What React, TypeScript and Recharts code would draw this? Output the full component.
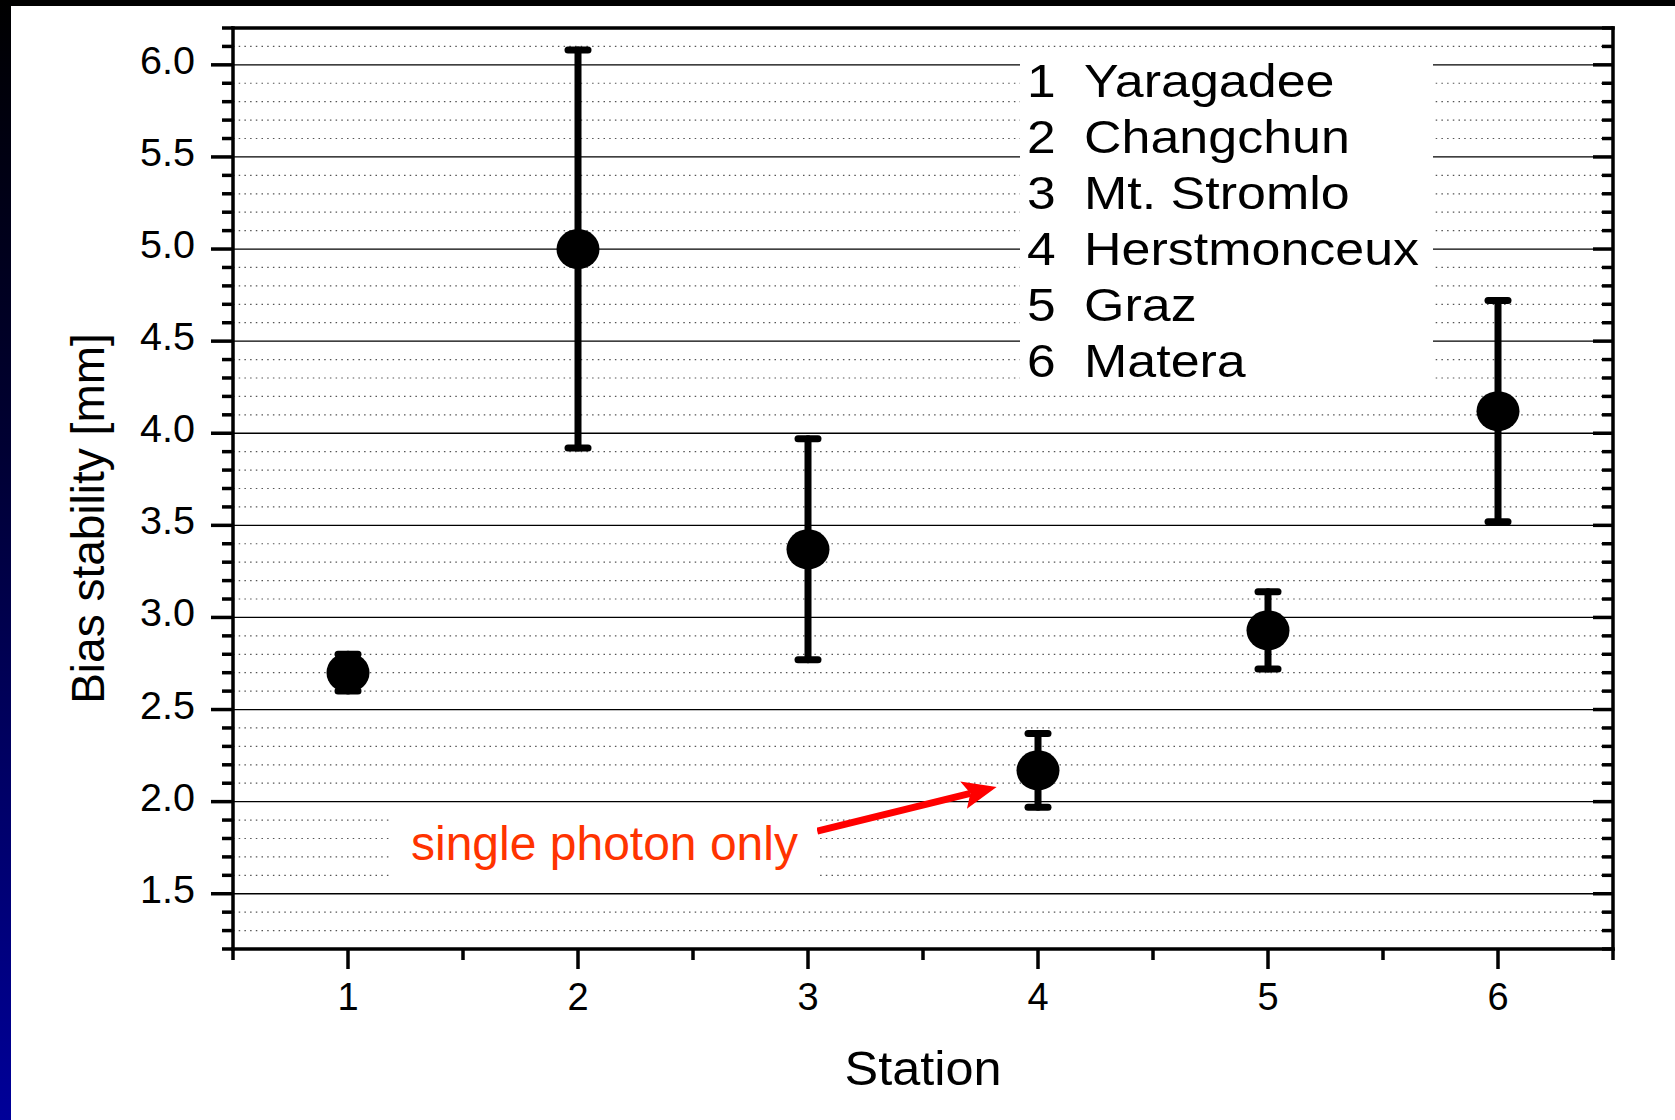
import React from 'react';
import { ScatterChart, Scatter, XAxis, YAxis, ErrorBar, ReferenceLine, Label } from 'recharts';

// ---- data ----
const stations = [1, 2, 3, 4, 5, 6];
const stationNames = ['Yaragadee', 'Changchun', 'Mt. Stromlo', 'Herstmonceux', 'Graz', 'Matera'];
const biasStability = [2.70, 5.00, 3.37, 2.17, 2.93, 4.12];
const lowerBound = [2.60, 3.92, 2.77, 1.97, 2.72, 3.52];
const upperBound = [2.80, 6.08, 3.97, 2.37, 3.14, 4.72];

const xMajorTicks = [1, 2, 3, 4, 5, 6];
const xAllTicks = [0.5, 1, 1.5, 2, 2.5, 3, 3.5, 4, 4.5, 5, 5.5, 6, 6.5];
const yMajorTicks = [1.5, 2.0, 2.5, 3.0, 3.5, 4.0, 4.5, 5.0, 5.5, 6.0];
const yAllTicks = [
  1.2, 1.3, 1.4, 1.5, 1.6, 1.7, 1.8, 1.9, 2.0, 2.1, 2.2, 2.3, 2.4, 2.5, 2.6, 2.7, 2.8, 2.9,
  3.0, 3.1, 3.2, 3.3, 3.4, 3.5, 3.6, 3.7, 3.8, 3.9, 4.0, 4.1, 4.2, 4.3, 4.4, 4.5, 4.6, 4.7,
  4.8, 4.9, 5.0, 5.1, 5.2, 5.3, 5.4, 5.5, 5.6, 5.7, 5.8, 5.9, 6.0, 6.1, 6.2,
];
const xDomain = [0.5, 6.5];
const yDomain = [1.2, 6.2];

const annotationText = 'single photon only';
const arrowSegment = [
  { x: 3.04, y: 1.84 },
  { x: 3.82, y: 2.08 },
];

const chartData = stations.map((s, i) => ({
  station: s,
  bias: biasStability[i],
  err: [biasStability[i] - lowerBound[i], upperBound[i] - biasStability[i]],
}));

const FONT = '"Liberation Sans", Arial, Helvetica, sans-serif';
const TW = 3.5;

const isIn = (arr: number[], v: number) => arr.some((m) => Math.abs(m - v) < 1e-6);
const yMinorGrid = yAllTicks.filter(
  (v) => !isIn(yMajorTicks, v) && !isIn(yDomain, v)
);

const LeftTick = (props: any) => {
  const { x, y, payload } = props;
  const major = isIn(yMajorTicks, payload.value);
  return (
    <g>
      <line x1={x - (major ? 22 : 11)} x2={x} y1={y} y2={y} stroke="#000" strokeWidth={TW} />
      {major && (
        <text
          transform={`translate(${x - 38} ${y + 9}) scale(1.04 1)`}
          textAnchor="end"
          fontSize={38}
          fontFamily={FONT}
          fill="#000"
        >
          {Number(payload.value).toFixed(1)}
        </text>
      )}
    </g>
  );
};

const RightTick = (props: any) => {
  const { x, y, payload } = props;
  const major = isIn(yMajorTicks, payload.value);
  return <line x1={x - (major ? 20 : 11)} x2={x} y1={y} y2={y} stroke="#000" strokeWidth={TW} />;
};

const BottomTick = (props: any) => {
  const { x, y, payload } = props;
  const major = isIn(xMajorTicks, payload.value);
  return (
    <g>
      <line x1={x} x2={x} y1={y} y2={y + (major ? 20 : 11)} stroke="#000" strokeWidth={TW} />
      {major && (
        <text x={x} y={y + 61} textAnchor="middle" fontSize={38} fontFamily={FONT} fill="#000">
          {String(payload.value)}
        </text>
      )}
    </g>
  );
};

const TopTick = (props: any) => {
  const { x, y, payload } = props;
  const major = isIn(xMajorTicks, payload.value);
  return <line x1={x} x2={x} y1={y} y2={y + (major ? 20 : 10)} stroke="#000" strokeWidth={TW} />;
};

const Dot = (p: any) => <ellipse cx={p.cx} cy={p.cy} rx={21.5} ry={20} fill="#000" />;

const Arrow = (p: any) => {
  const { x1, y1, x2, y2 } = p;
  if ([x1, y1, x2, y2].some((v) => typeof v !== 'number' || isNaN(v))) return null;
  const dx = x2 - x1;
  const dy = y2 - y1;
  const L = Math.hypot(dx, dy);
  const ux = dx / L;
  const uy = dy / L;
  const hl = 34;
  const hw = 14;
  const bx = x2 - ux * hl;
  const by = y2 - uy * hl;
  const nx = x2 - ux * (hl - 7);
  const ny = y2 - uy * (hl - 7);
  const px = -uy;
  const py = ux;
  return (
    <g>
      <line x1={x1} y1={y1} x2={nx} y2={ny} stroke="#ff0000" strokeWidth={7} />
      <polygon
        points={`${x2},${y2} ${bx + px * hw},${by + py * hw} ${nx},${ny} ${bx - px * hw},${by - py * hw}`}
        fill="#ff0000"
      />
    </g>
  );
};

export default function App() {
  return (
    <div
      style={{
        position: 'absolute',
        left: 0,
        top: 0,
        width: 1675,
        height: 1120,
        background: '#fff',
        overflow: 'hidden',
        fontFamily: FONT,
      }}
    >
      <div style={{ position: 'absolute', left: 0, top: 0 }}>
        <ScatterChart width={1675} height={1120} margin={{ top: 27, right: 61, bottom: 111, left: 0 }}>
          <XAxis
            xAxisId="bottom"
            type="number"
            dataKey="station"
            domain={xDomain}
            ticks={xAllTicks}
            interval={0}
            height={60}
            tickSize={0}
            tickMargin={0}
            tick={<BottomTick />}
            axisLine={{ stroke: '#000', strokeWidth: TW, strokeLinecap: 'square' }}
            allowDataOverflow
          >
            <Label
              content={(lp: any) => {
                const vb = lp.viewBox || {};
                const cx = vb.x + vb.width / 2;
                const cy = vb.y + 136;
                return (
                  <text
                    transform={`translate(${cx} ${cy}) scale(1.05 1)`}
                    textAnchor="middle"
                    fontSize={48}
                    fontFamily={FONT}
                    fill="#000"
                  >
                    Station
                  </text>
                );
              }}
            />
          </XAxis>
          <XAxis
            xAxisId="top"
            orientation="top"
            type="number"
            domain={xDomain}
            ticks={xAllTicks}
            interval={0}
            height={1}
            tickSize={0}
            tickMargin={0}
            tick={<TopTick />}
            axisLine={{ stroke: '#000', strokeWidth: TW, strokeLinecap: 'square' }}
            allowDataOverflow
          />
          <YAxis
            yAxisId="left"
            type="number"
            dataKey="bias"
            domain={yDomain}
            ticks={yAllTicks}
            interval={0}
            width={233}
            tickSize={0}
            tickMargin={0}
            tick={<LeftTick />}
            axisLine={{ stroke: '#000', strokeWidth: TW, strokeLinecap: 'square' }}
            allowDataOverflow
          >
            <Label
              content={(lp: any) => {
                const vb = lp.viewBox || {};
                const cx = vb.x + 88;
                const cy = vb.y + vb.height / 2 + 30;
                return (
                  <text
                    x={cx}
                    y={cy}
                    transform={`rotate(-90 ${cx} ${cy})`}
                    textAnchor="middle"
                    dominantBaseline="central"
                    fontSize={46}
                    fontFamily={FONT}
                    fill="#000"
                  >
                    Bias stability [mm]
                  </text>
                );
              }}
            />
          </YAxis>
          <YAxis
            yAxisId="right"
            orientation="right"
            type="number"
            domain={yDomain}
            ticks={yAllTicks}
            interval={0}
            width={1}
            tickSize={0}
            tickMargin={0}
            tick={<RightTick />}
            axisLine={{ stroke: '#000', strokeWidth: TW, strokeLinecap: 'square' }}
            allowDataOverflow
          />

          {yMinorGrid.map((v) => (
            <ReferenceLine
              key={'m' + v}
              xAxisId="bottom"
              yAxisId="left"
              y={v}
              stroke="#555"
              strokeWidth={1.2}
              strokeDasharray="1.5 4.2"
            />
          ))}
          {yMajorTicks.map((v) => (
            <ReferenceLine key={'M' + v} xAxisId="bottom" yAxisId="left" y={v} stroke="#000" strokeWidth={1.3} />
          ))}

          <ReferenceLine
            xAxisId="bottom"
            yAxisId="left"
            segment={arrowSegment}
            shape={(p: any) => <Arrow {...p} />}
          />

          <Scatter
            xAxisId="bottom"
            yAxisId="left"
            data={chartData}
            dataKey="bias"
            fill="#000"
            shape={(p: any) => <Dot {...p} />}
            isAnimationActive={false}
          >
            <ErrorBar
              dataKey="err"
              direction="y"
              width={10}
              strokeWidth={7}
              stroke="#000"
              strokeLinecap="round"
              isAnimationActive={false}
            />
          </Scatter>
        </ScatterChart>
      </div>

      <svg
        width={1675}
        height={1120}
        style={{ position: 'absolute', left: 0, top: 0, pointerEvents: 'none' }}
      >
        {/* legend box */}
        <rect x={1020} y={54} width={413} height={334} fill="#fff" />
        {stations.map((s, i) => (
          <g key={s}>
            <text
              transform={`translate(1027 ${97 + i * 56}) scale(1.12 1)`}
              fontSize={46}
              fontFamily={FONT}
              fill="#000"
            >
              {String(s)}
            </text>
            <text
              transform={`translate(1084 ${97 + i * 56}) scale(1.13 1)`}
              fontSize={46}
              fontFamily={FONT}
              fill="#000"
            >
              {stationNames[i]}
            </text>
          </g>
        ))}
        {/* annotation box */}
        <rect x={390} y={803} width={427} height={82} fill="#fff" />
        <text x={411} y={860} fontSize={48} fontFamily={FONT} fill="#ff3300">
          {annotationText}
        </text>
      </svg>

      {/* slide frame */}
      <div style={{ position: 'absolute', left: 0, top: 0, width: 1675, height: 6, background: '#000' }} />
      <div
        style={{
          position: 'absolute',
          left: 0,
          top: 0,
          width: 11,
          height: 1120,
          background: 'linear-gradient(to bottom, #000000 0%, #000033 40%, #000099 100%)',
        }}
      />
    </div>
  );
}
